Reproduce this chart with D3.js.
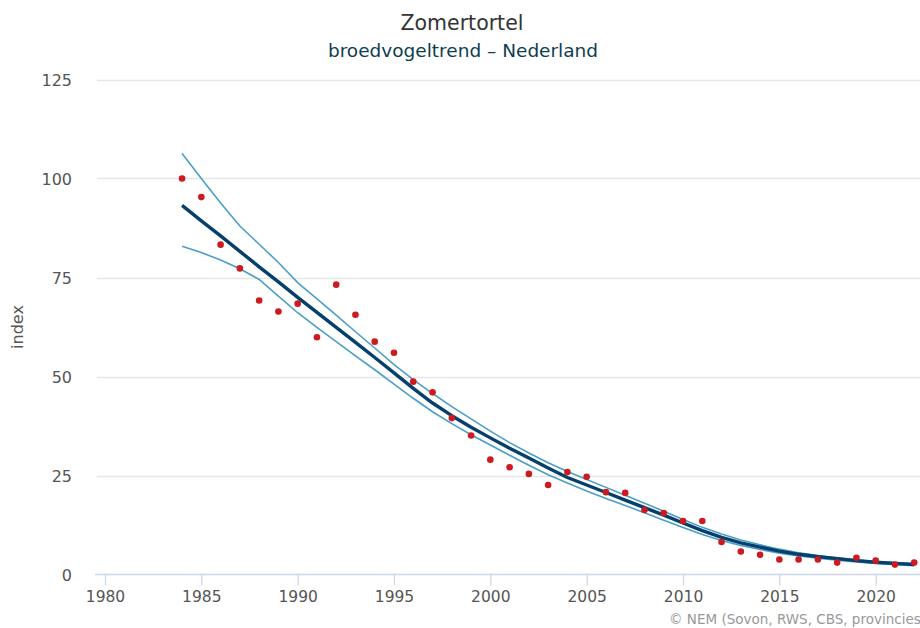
<!DOCTYPE html>
<html>
<head>
<meta charset="utf-8">
<script src="https://cdn.jsdelivr.net/npm/d3@7"></script>
<style>
  html, body { margin: 0; padding: 0; background: #fff; }
  svg { display: block; font-family: "DejaVu Sans", sans-serif; }
</style>
</head>
<body>
<svg id="chart" width="920" height="628"></svg>
<script>
const years = d3.range(1984, 2023);
const indexValues = [100, 95.3, 83.3, 77.3, 69.2, 66.4, 68.4, 59.9, 73.2, 65.6,
  58.8, 56.0, 48.7, 46.0, 39.5, 35.1, 29.0, 27.1, 25.4, 22.6,
  25.9, 24.7, 20.8, 20.6, 16.3, 15.5, 13.5, 13.5, 8.2, 5.8,
  5.0, 3.8, 3.8, 3.8, 3.0, 4.2, 3.5, 2.5, 3.0];
const trendValues = [93.2, 89.3, 85.5, 81.6, 77.7, 73.9, 70.0, 66.2, 62.4, 58.6,
  54.8, 50.9, 47.0, 43.3, 40.1, 37.2, 34.5, 31.9, 29.4, 26.9,
  24.5, 22.6, 20.7, 18.8, 16.9, 15.0, 13.0, 11.1, 9.4, 8.0,
  6.9, 5.9, 5.1, 4.5, 4.0, 3.5, 3.1, 2.8, 2.5];
const upperValues = [106.3, 100.0, 93.8, 88.0, 83.4, 78.8, 73.7, 69.6, 65.5, 61.3,
  57.2, 53.0, 49.2, 45.7, 42.4, 39.3, 36.2, 33.3, 30.7, 28.2,
  26.0, 24.0, 22.0, 20.0, 18.0, 16.0, 13.9, 11.9, 10.2, 8.7,
  7.5, 6.4, 5.5, 4.8, 4.2, 3.7, 3.3, 3.0, 2.8];
const lowerValues = [82.9, 81.3, 79.4, 77.2, 74.5, 70.3, 66.1, 62.4, 58.8, 55.2,
  51.7, 48.1, 44.5, 41.1, 38.1, 35.3, 32.7, 30.1, 27.6, 25.2,
  23.1, 21.1, 19.2, 17.4, 15.6, 13.7, 11.9, 10.1, 8.6, 7.3,
  6.3, 5.4, 4.7, 4.1, 3.6, 3.2, 2.8, 2.5, 2.2];
const xTicks = [1980, 1985, 1990, 1995, 2000, 2005, 2010, 2015, 2020];
const yTicks = [0, 25, 50, 75, 100, 125];
const titleText = "Zomertortel";
const subtitleText = "broedvogeltrend – Nederland";
const yTitle = "index";
const creditText = "© NEM (Sovon, RWS, CBS, provincies)";

const svg = d3.select("#chart");
const plotL = 97, plotR = 920, plotT = 79.5, plotB = 574.5;
const x = d3.scaleLinear().domain([1979.585, 2022.3]).range([plotL, plotR]);
const y = d3.scaleLinear().domain([0, 125]).range([plotB, plotT]);

// gridlines
svg.append("g").selectAll("line").data(yTicks.filter(d => d > 0)).join("line")
  .attr("x1", plotL).attr("x2", plotR)
  .attr("y1", d => Math.round(y(d)) + 0.5).attr("y2", d => Math.round(y(d)) + 0.5)
  .attr("stroke", "#e6e6e6").attr("stroke-width", 1.5);

// y labels
svg.append("g").selectAll("text").data(yTicks).join("text")
  .attr("x", 72).attr("y", d => y(d) + 6)
  .attr("text-anchor", "end").attr("font-size", 16).attr("fill", "#555")
  .text(d => d);

// x axis
const xAxis = d3.axisBottom(x).tickValues(xTicks).tickSize(11).tickFormat(d3.format("d"));
const gx = svg.append("g").attr("transform", `translate(0,${plotB})`).call(xAxis);
gx.select(".domain").attr("stroke", "#ccd6eb").attr("stroke-width", 1.5)
  .attr("d", `M${plotL - 2},0H${plotR}`);
gx.selectAll(".tick line").attr("stroke", "#ccd6eb").attr("stroke-width", 1.2);
gx.selectAll(".tick text").attr("font-size", 15.5).attr("fill", "#555")
  .attr("font-family", "DejaVu Sans, sans-serif").attr("dy", "0.9em");

// y title
svg.append("text").attr("transform", `translate(23,${(plotT + plotB) / 2}) rotate(-90)`)
  .attr("text-anchor", "middle").attr("font-size", 16).attr("fill", "#555").text(yTitle);

// lines
const data = years.map((yr, i) => ({yr, v: indexValues[i], t: trendValues[i], u: upperValues[i], l: lowerValues[i]}));
const mk = key => d3.line().x(d => x(d.yr)).y(d => y(d[key]));
svg.append("path").datum(data).attr("d", mk("u")).attr("fill", "none")
  .attr("stroke", "#4a9fc6").attr("stroke-width", 1.6);
svg.append("path").datum(data).attr("d", mk("l")).attr("fill", "none")
  .attr("stroke", "#4a9fc6").attr("stroke-width", 1.6);
svg.append("path").datum(data).attr("d", mk("t")).attr("fill", "none")
  .attr("stroke", "#053f6c").attr("stroke-width", 3.4).attr("stroke-linejoin", "round");

// points
svg.append("g").selectAll("circle").data(data).join("circle")
  .attr("cx", d => x(d.yr)).attr("cy", d => y(d.v)).attr("r", 3.3)
  .attr("fill", "#cc1a1f");

// titles
svg.append("text").attr("x", 462).attr("y", 30).attr("text-anchor", "middle")
  .attr("font-size", 20.5).attr("fill", "#333").text(titleText);
svg.append("text").attr("x", 463).attr("y", 57).attr("text-anchor", "middle")
  .attr("font-size", 18.5).attr("fill", "#0d3d4f").text(subtitleText);

// credits
svg.append("text").attr("x", 926).attr("y", 624).attr("text-anchor", "end")
  .attr("font-size", 13.5).attr("fill", "#999")
  .attr("font-family", "DejaVu Sans, sans-serif").text(creditText);
</script>
</body>
</html>
